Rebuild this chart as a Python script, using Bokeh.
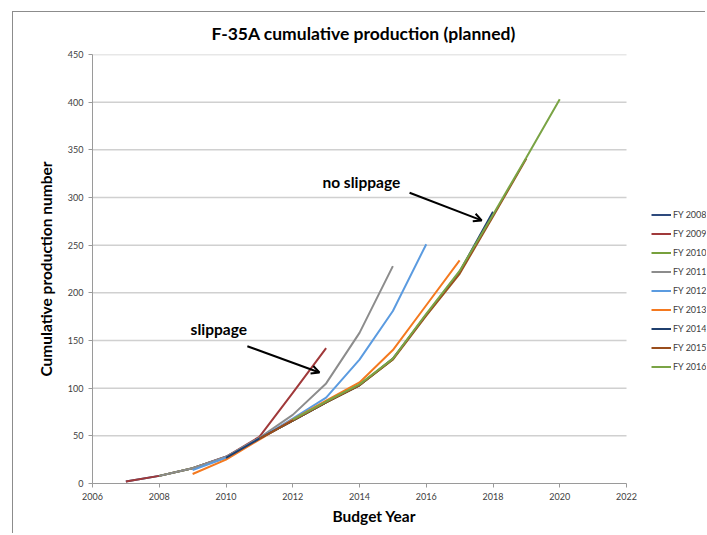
from bokeh.plotting import figure
from bokeh.models import (Legend, LegendItem, Label, Arrow, OpenHead, Range1d,
                          FixedTicker, Title)
from bokeh.embed import file_html
from bokeh.resources import INLINE

# ---- data ----
series_names = ["FY 2008", "FY 2009", "FY 2010", "FY 2011", "FY 2012",
                "FY 2013", "FY 2014", "FY 2015", "FY 2016"]

fy2008_years = [2007, 2008, 2009, 2010, 2011, 2012, 2013]
fy2008_vals = [2, 8, 16, 28, 47, 66, 85]

fy2009_years = [2007, 2008, 2009, 2010, 2011, 2012, 2013]
fy2009_vals = [2, 8, 16, 28, 49, 95, 142]

fy2010_years = [2008, 2009, 2010, 2011, 2012, 2013, 2014, 2015]
fy2010_vals = [8, 16, 27, 47, 66, 85, 103, 130]

fy2011_years = [2008, 2009, 2010, 2011, 2012, 2013, 2014, 2015]
fy2011_vals = [8, 16, 28, 48, 72, 105, 158, 228]

fy2012_years = [2009, 2010, 2011, 2012, 2013, 2014, 2015, 2016]
fy2012_vals = [14, 27, 47, 68, 90, 130, 181, 251]

fy2013_years = [2009, 2010, 2011, 2012, 2013, 2014, 2015, 2016, 2017]
fy2013_vals = [10, 25, 46, 67, 87, 106, 140, 187, 234]

fy2014_years = [2010, 2011, 2012, 2013, 2014, 2015, 2016, 2017, 2018]
fy2014_vals = [27, 47, 66, 85, 103, 131, 177, 222, 285]

fy2015_years = [2011, 2012, 2013, 2014, 2015, 2016, 2017, 2018, 2019]
fy2015_vals = [47, 66, 85, 103, 130, 176, 220, 280, 341]

fy2016_years = [2012, 2013, 2014, 2015, 2016, 2017, 2018, 2019, 2020]
fy2016_vals = [67, 86, 104, 131, 178, 223, 282, 342, 403]

x_ticks = [2006, 2008, 2010, 2012, 2014, 2016, 2018, 2020, 2022]
y_ticks = [0, 50, 100, 150, 200, 250, 300, 350, 400, 450]

all_years = [fy2008_years, fy2009_years, fy2010_years, fy2011_years, fy2012_years,
             fy2013_years, fy2014_years, fy2015_years, fy2016_years]
all_vals = [fy2008_vals, fy2009_vals, fy2010_vals, fy2011_vals, fy2012_vals,
            fy2013_vals, fy2014_vals, fy2015_vals, fy2016_vals]
colors = ["#2E4A7D", "#A0393A", "#77A03C", "#8C8C8C", "#5B9BE0",
          "#F4791F", "#1F3F6E", "#9A4E1C", "#7AA445"]

FONT = "Lato"
X_MIN, X_MAX = x_ticks[0], x_ticks[-1]
# plot frame continues to the right edge so the legend (drawn in the frame) is visible
X_VIEW_MAX = 2024.397

p = figure(width=693, height=522, output_backend="svg", toolbar_location=None,
           x_range=Range1d(X_MIN, X_VIEW_MAX), y_range=Range1d(y_ticks[0], y_ticks[-1]),
           min_border_left=79, min_border_top=42, min_border_right=0,
           min_border_bottom=51)
p.styles = {"margin-left": "12px", "margin-top": "11px",
            "border-left": "1px solid #8c8c8c", "border-top": "1px solid #8c8c8c"}
p.outline_line_color = None
p.background_fill_color = "white"
p.border_fill_color = "white"

p.title = Title(text="F-35A cumulative production (planned)", align="left",
                offset=119, standoff=18, vertical_align="top", text_font=FONT,
                text_font_size="17.5px", text_font_style="bold", text_color="black")

# horizontal gridlines limited to the axis extent
p.xgrid.grid_line_color = None
p.ygrid.grid_line_color = None
p.segment(x0=[X_MIN] * (len(y_ticks) - 1), x1=[X_MAX] * (len(y_ticks) - 1),
          y0=y_ticks[1:], y1=y_ticks[1:], line_color="#D0D0D0", line_width=1.5,
          level="underlay")

p.xaxis.ticker = FixedTicker(ticks=x_ticks)
p.xaxis.bounds = (X_MIN, X_MAX)
p.yaxis.ticker = FixedTicker(ticks=y_ticks)
for ax in (p.xaxis, p.yaxis):
    ax.axis_line_color = "#9a9a9a"
    ax.major_tick_line_color = "#9a9a9a"
    ax.major_tick_out = 4
    ax.major_tick_in = 0
    ax.minor_tick_line_color = None
    ax.major_label_text_font = FONT
    ax.major_label_text_font_size = "9px"
    ax.major_label_text_color = "#404040"
p.yaxis.axis_label = "Cumulative production number"
p.yaxis.axis_label_text_font = FONT
p.yaxis.axis_label_text_font_size = "15.5px"
p.yaxis.axis_label_text_font_style = "bold"
p.yaxis.axis_label_text_color = "black"
p.yaxis.axis_label_standoff = 10

p.add_layout(Title(text="Budget Year", align="left", offset=240, standoff=9,
                   vertical_align="top", text_font=FONT, text_font_size="15.5px",
                   text_font_style="bold", text_color="black"), "below")

renderers = []
for yrs, vals, c in zip(all_years, all_vals, colors):
    r = p.line(yrs, vals, line_color=c, line_width=2)
    renderers.append(r)

legend = Legend(items=[LegendItem(label=n, renderers=[r])
                       for n, r in zip(series_names, renderers)],
                location=(559, 109), padding=0, margin=0,
                glyph_width=20, glyph_height=15, label_height=15, spacing=4,
                label_standoff=2, label_text_font=FONT, label_text_font_size="9px",
                label_text_color="#404040", border_line_color=None,
                background_fill_alpha=0)
p.add_layout(legend)

for txt, tx, ty in [("no slippage", 2012.89, 316), ("slippage", 2008.94, 162)]:
    p.add_layout(Label(x=tx, y=ty, text=txt, text_font=FONT,
                       text_font_size="15.5px", text_font_style="bold",
                       text_align="left", text_baseline="middle", text_color="black"))

for xs, ys, xe, ye in [(2015.50, 305, 2017.66, 276), (2010.64, 144, 2012.80, 116.5)]:
    p.add_layout(Arrow(x_start=xs, y_start=ys, x_end=xe, y_end=ye,
                       line_color="black", line_width=2,
                       end=OpenHead(size=8, line_color="black", line_width=2)))

open("out.html", "w").write(file_html(p, INLINE))
